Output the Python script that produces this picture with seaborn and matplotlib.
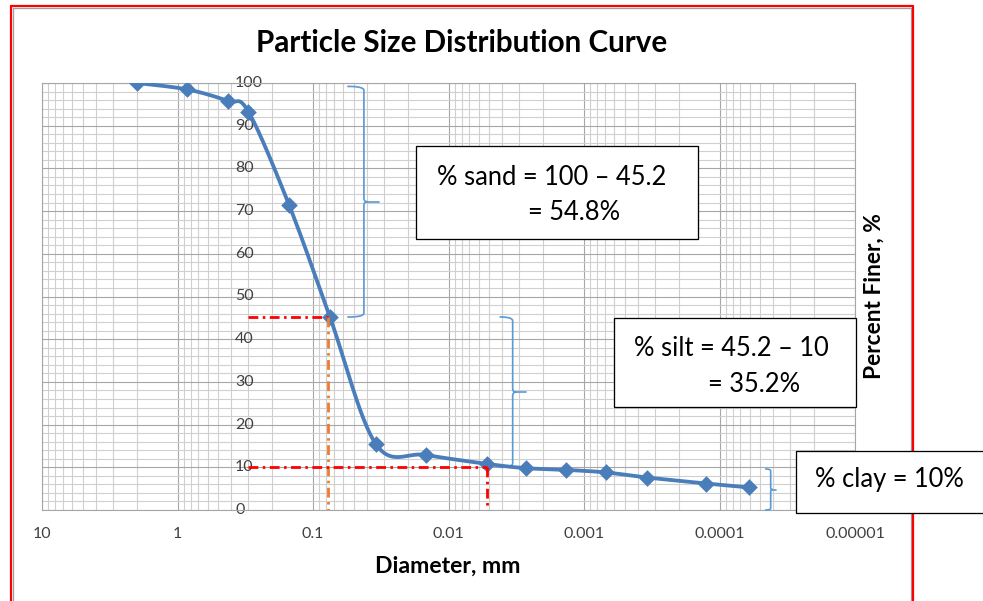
import numpy as np
import matplotlib
matplotlib.use("Agg")
import matplotlib.pyplot as plt
import seaborn as sns
from matplotlib.lines import Line2D
from matplotlib.patches import Rectangle
from matplotlib.ticker import FixedLocator, LogLocator, MultipleLocator, NullFormatter

# ---------------- data ----------------
diameter_mm = [2.0, 0.85, 0.425, 0.3, 0.15, 0.075, 0.0343, 0.0147, 0.0052,
               0.0027, 0.00136, 0.00069, 0.00034, 0.000125, 0.000061]
percent_finer = [100, 98.5, 95.8, 93.3, 71.4, 45.2, 15.4, 12.9, 10.8,
                 9.8, 9.4, 8.8, 7.6, 6.2, 5.3]

x_ticks = [10, 1, 0.1, 0.01, 0.001, 0.0001, 0.00001]
x_tick_labels = ["10", "1", "0.1", "0.01", "0.001", "0.0001", "0.00001"]
y_ticks = [0, 10, 20, 30, 40, 50, 60, 70, 80, 90, 100]
y_tick_labels = ["0", "10", "20", "30", "40", "50", "60", "70", "80", "90", "100"]

fines_pct = 45.2          # % passing at sand/silt boundary
clay_pct = 10.0           # % passing at silt/clay boundary
d_fines = 0.077           # diameter read at 45.2 %
d_clay = 0.0052           # diameter read at 10 %
guide_start = 0.3

sand_range = (45.2, 99.2)
silt_range = (10.0, 45.2)
clay_range = (0.0, 9.6)
sand_brace_d = 0.0421
silt_brace_d = 0.00336
clay_brace_d = 4.19e-5

title_text = "Particle Size Distribution Curve"
xlabel_text = "Diameter, mm"
ylabel_text = "Percent Finer, %"
sand_lines = ["% sand = 100 \u2013 45.2", "= 54.8%"]
silt_lines = ["% silt = 45.2 \u2013 10", "= 35.2%"]
clay_lines = ["% clay = 10%"]

# ---------------- style ----------------
W, H = 983, 601
sns.set_style("white")
plt.rcParams["font.family"] = ["Lato", "DejaVu Sans"]

BLUE = "#4A7EBB"
BRACE = "#5B9BD5"
GRID_MAJ = "#a6a6a6"
GRID_MIN = "#d0d0d0"
PX = 0.72  # one pixel in points at 100 dpi

fig = plt.figure(figsize=(W / 100, H / 100), dpi=100)
L, R, T, B = 42, 855, 83, 510
ax = fig.add_axes([L / W, 1 - B / H, (R - L) / W, (B - T) / H])

ax.set_xscale("log")
ax.set_xlim(10, 1e-5)
ax.set_ylim(0, 100)

ax.xaxis.set_major_locator(FixedLocator(x_ticks))
ax.set_xticks(x_ticks)
ax.set_xticklabels(x_tick_labels)
ax.xaxis.set_minor_locator(LogLocator(base=10, subs=np.arange(2, 10)))
ax.xaxis.set_minor_formatter(NullFormatter())
ax.set_yticks(y_ticks)
ax.set_yticklabels(y_tick_labels)
ax.yaxis.set_minor_locator(MultipleLocator(2))

ax.grid(which="major", color=GRID_MAJ, lw=1.1 * PX, zorder=0)
ax.grid(which="minor", color=GRID_MIN, lw=1.1 * PX, zorder=0)
ax.set_axisbelow(True)
for s in ax.spines.values():
    s.set_color(GRID_MAJ)
    s.set_linewidth(1.1 * PX)

ax.tick_params(axis="x", which="major", length=5 * PX, width=PX, color=GRID_MAJ,
               labelsize=11.5, labelcolor="#404040", pad=9)
ax.tick_params(axis="x", which="minor", length=0)
ax.tick_params(axis="y", which="both", length=0, labelsize=11.5,
               labelcolor="#404040", pad=-(235 - L) * PX)
for lab in ax.get_yticklabels():
    lab.set_horizontalalignment("left")
    lab.set_verticalalignment("center")
ax.set_xlabel("")
ax.set_ylabel("")


# ---------------- smooth curve (Excel-style Bezier smoothing) ----------------
def excel_smooth(xs, ys, steps=30):
    P = np.column_stack([np.log10(xs), np.asarray(ys, float)])
    n = len(P)
    segs = []
    for i in range(n - 1):
        p0 = P[i - 1] if i > 0 else P[i]
        p1, p2 = P[i], P[i + 1]
        p3 = P[i + 2] if i + 2 < n else P[i + 1]
        c1 = p1 + (p2 - p0) / 6.0
        c2 = p2 - (p3 - p1) / 6.0
        t = np.linspace(0, 1, steps, endpoint=(i == n - 2))[:, None]
        segs.append((1 - t) ** 3 * p1 + 3 * (1 - t) ** 2 * t * c1
                    + 3 * (1 - t) * t ** 2 * c2 + t ** 3 * p2)
    S = np.vstack(segs)
    return 10 ** S[:, 0], S[:, 1]


sx, sy = excel_smooth(diameter_mm, percent_finer)
sns.lineplot(x=sx, y=sy, sort=False, estimator=None, color=BLUE, lw=3.8 * PX,
             ax=ax, zorder=4)
sns.scatterplot(x=diameter_mm, y=percent_finer, marker="D", s=72, color=BLUE,
                edgecolor=BLUE, linewidth=0, ax=ax, zorder=5)

# ---------------- guide lines ----------------
dash = (0, (3.5, 1.6, 0.9, 1.6))
GLW = 2.8 * PX
ax.plot([guide_start, d_fines], [fines_pct, fines_pct], color="#FF0000",
        lw=GLW, ls=dash, zorder=6)
ax.plot([d_fines, d_fines], [fines_pct, 0], color="#ED7D31",
        lw=GLW, ls=dash, zorder=6)
ax.plot([guide_start, d_clay], [clay_pct, clay_pct], color="#FF0000",
        lw=GLW, ls=dash, zorder=6)
ax.plot([d_clay, d_clay], [clay_pct, 0], color="#FF0000",
        lw=GLW, ls=dash, zorder=6)


# ---------------- braces ----------------
def quad(p0, c, p1, n=10):
    t = np.linspace(0, 1, n)[:, None]
    return (1 - t) ** 2 * np.array(p0) + 2 * (1 - t) * t * np.array(c) + t ** 2 * np.array(p1)


def brace(d, y0, y1, hook, tick, r):
    (x, yb), = ax.transData.transform([(d, y0)])
    (_, yt), = ax.transData.transform([(d, y1)])
    ym = (yt + yb) / 2
    upper = np.vstack([quad((x - hook, yt), (x, yt), (x, yt - r)),
                       quad((x, ym + r), (x, ym), (x + r * 0.8, ym))])
    lower = np.vstack([quad((x - hook, yb), (x, yb), (x, yb + r)),
                       quad((x, ym - r), (x, ym), (x + r * 0.8, ym))])
    inv = ax.transData.inverted()
    for seg in (upper, lower):
        dd = inv.transform(seg)
        ax.plot(dd[:, 0], dd[:, 1], color=BRACE, lw=1.7 * PX, zorder=3,
                clip_on=False)
    tk = inv.transform([(x + r * 0.8, ym), (x + tick, ym)])
    ax.plot(tk[:, 0], tk[:, 1], color=BRACE, lw=1.7 * PX, zorder=3, clip_on=False)


brace(sand_brace_d, *sand_range, hook=16, tick=15, r=4)
brace(silt_brace_d, *silt_range, hook=12.5, tick=13.5, r=4)
brace(clay_brace_d, *clay_range, hook=5, tick=5.5, r=2)


# ---------------- text boxes & labels (figure pixel coords) ----------------
def fx(x):
    return x / W


def fy(y):
    return 1 - y / H


def box(x0, y0, x1, y1):
    fig.add_artist(Rectangle((fx(x0), fy(y1)), fx(x1) - fx(x0), fy(y0) - fy(y1),
                             transform=fig.transFigure, facecolor="white",
                             edgecolor="black", lw=1.3 * PX, zorder=20))


box(416, 146, 698, 239)
fig.text(fx(437), fy(185), sand_lines[0], fontsize=18.4, color="black", zorder=21)
fig.text(fx(528), fy(220), sand_lines[1], fontsize=18.4, color="black", zorder=21)

box(614, 318, 856, 407)
fig.text(fx(634), fy(355.7), silt_lines[0], fontsize=18.4, color="black", zorder=21)
fig.text(fx(708), fy(391.7), silt_lines[1], fontsize=18.4, color="black", zorder=21)

box(796, 451, 1005, 513)
fig.text(fx(815), fy(487.3), clay_lines[0], fontsize=18.4, color="black", zorder=21)

fig.text(fx(462), fy(52), title_text, fontsize=21.3, fontweight="bold",
         ha="center", va="baseline", color="black")
fig.text(fx(448), fy(573), xlabel_text, fontsize=16.6, fontweight="bold",
         ha="center", va="baseline", color="black")
fig.text(fx(874), fy(296.5), ylabel_text, fontsize=16.4, fontweight="bold",
         ha="center", va="center", rotation=90, color="black")

# ---------------- outer frame ----------------
for (xa, ya, xb, yb, c, lw) in [
    (12.8, 7.8, 910.8, 7.8, "#a0a0a0", 1.3),
    (12.8, 7.8, 12.8, 610, "#a0a0a0", 1.3),
    (910.8, 7.8, 910.8, 610, "#a0a0a0", 1.3),
    (11, 6, 912.8, 6, "#FF0000", 2.2),
    (11, 6, 11, 610, "#FF0000", 2.2),
    (912.8, 6, 912.8, 610, "#FF0000", 2.2),
]:
    fig.add_artist(Line2D([fx(xa), fx(xb)], [fy(ya), fy(yb)], transform=fig.transFigure,
                          color=c, lw=lw * PX, zorder=12))

fig.savefig("out.png", dpi=100)
